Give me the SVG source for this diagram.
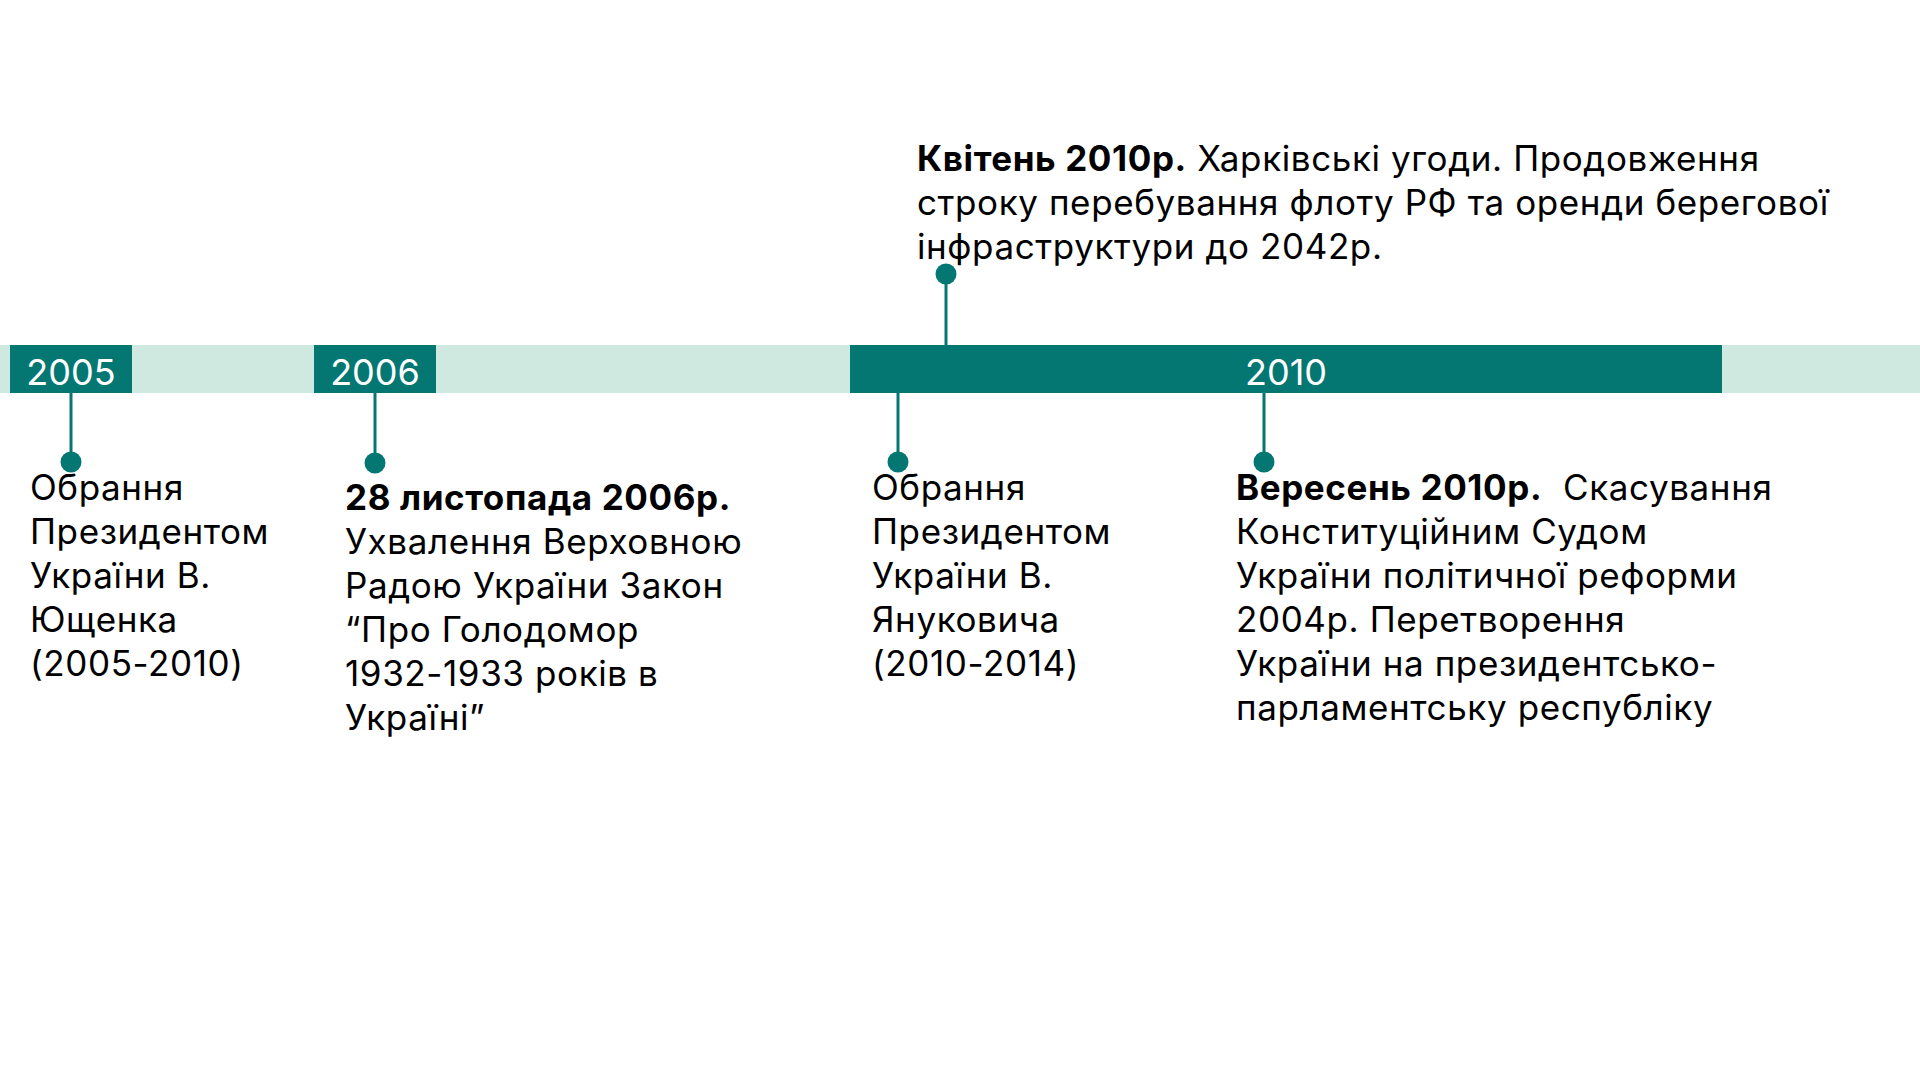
<svg xmlns="http://www.w3.org/2000/svg" width="1920" height="1080" viewBox="0 0 1920 1080">
<style>
.t{font-family:Inter,"Noto Sans","Liberation Sans",sans-serif;font-size:35px;letter-spacing:0.6px;fill:#000}
.b{font-weight:700}
.yr{font-family:Inter,"Noto Sans","Liberation Sans",sans-serif;font-size:36px;fill:#fff;text-anchor:middle}
.ln{stroke:#047773;stroke-width:3;fill:none}
.dot{fill:#047773}
</style>
<rect width="1920" height="1080" fill="#fff"/>
<g id="timeline">
<rect x="0" y="345" width="1920" height="48" fill="#CFE9E1"/>
</g>
<g id="y2005"><rect x="10" y="345" width="122" height="48" fill="#047773"/><text class="yr" x="71" y="385">2005</text></g>
<g id="y2006"><rect x="314" y="345" width="122" height="48" fill="#047773"/><text class="yr" x="375" y="385">2006</text></g>
<g id="y2010"><rect x="850" y="345" width="872" height="48" fill="#047773"/><text class="yr" x="1286" y="385">2010</text></g>
<g id="connectors">
<line class="ln" x1="71" y1="393" x2="71" y2="462"/><circle class="dot" cx="71" cy="462" r="10.5"/>
<line class="ln" x1="375" y1="393" x2="375" y2="463"/><circle class="dot" cx="375" cy="463" r="10.5"/>
<line class="ln" x1="898" y1="393" x2="898" y2="462"/><circle class="dot" cx="898" cy="462" r="10.5"/>
<line class="ln" x1="1264" y1="393" x2="1264" y2="462"/><circle class="dot" cx="1264" cy="462" r="10.5"/>
<line class="ln" x1="946" y1="345" x2="946" y2="274"/><circle class="dot" cx="946" cy="274" r="10.5"/>
</g>
<g id="e1"><text class="t" x="30" y="500"><tspan x="30">Обрання</tspan><tspan x="30" dy="44">Президентом</tspan><tspan x="30" dy="44">України В.</tspan><tspan x="30" dy="44">Ющенка</tspan><tspan x="30" dy="44">(2005-2010)</tspan></text></g>
<g id="e2"><text class="t" x="345" y="510"><tspan x="345" class="b">28 листопада 2006р.</tspan><tspan x="345" dy="44">Ухвалення Верховною</tspan><tspan x="345" dy="44">Радою України Закон</tspan><tspan x="345" dy="44">“Про Голодомор</tspan><tspan x="345" dy="44">1932-1933 років в</tspan><tspan x="345" dy="44">Україні”</tspan></text></g>
<g id="e3"><text class="t" x="917" y="171"><tspan x="917"><tspan class="b">Квітень 2010р.</tspan> Харківські угоди. Продовження</tspan><tspan x="917" dy="44">строку перебування флоту РФ та оренди берегової</tspan><tspan x="917" dy="44">інфраструктури до 2042р.</tspan></text></g>
<g id="e4"><text class="t" x="872" y="500"><tspan x="872">Обрання</tspan><tspan x="872" dy="44">Президентом</tspan><tspan x="872" dy="44">України В.</tspan><tspan x="872" dy="44">Януковича</tspan><tspan x="872" dy="44">(2010-2014)</tspan></text></g>
<g id="e5"><text class="t" x="1236" y="500"><tspan x="1236" style="white-space:pre"><tspan class="b">Вересень 2010р.</tspan>  Скасування</tspan><tspan x="1236" dy="44">Конституційним Судом</tspan><tspan x="1236" dy="44">України політичної реформи</tspan><tspan x="1236" dy="44">2004р. Перетворення</tspan><tspan x="1236" dy="44">України на президентсько-</tspan><tspan x="1236" dy="44">парламентську республіку</tspan></text></g>
</svg>
